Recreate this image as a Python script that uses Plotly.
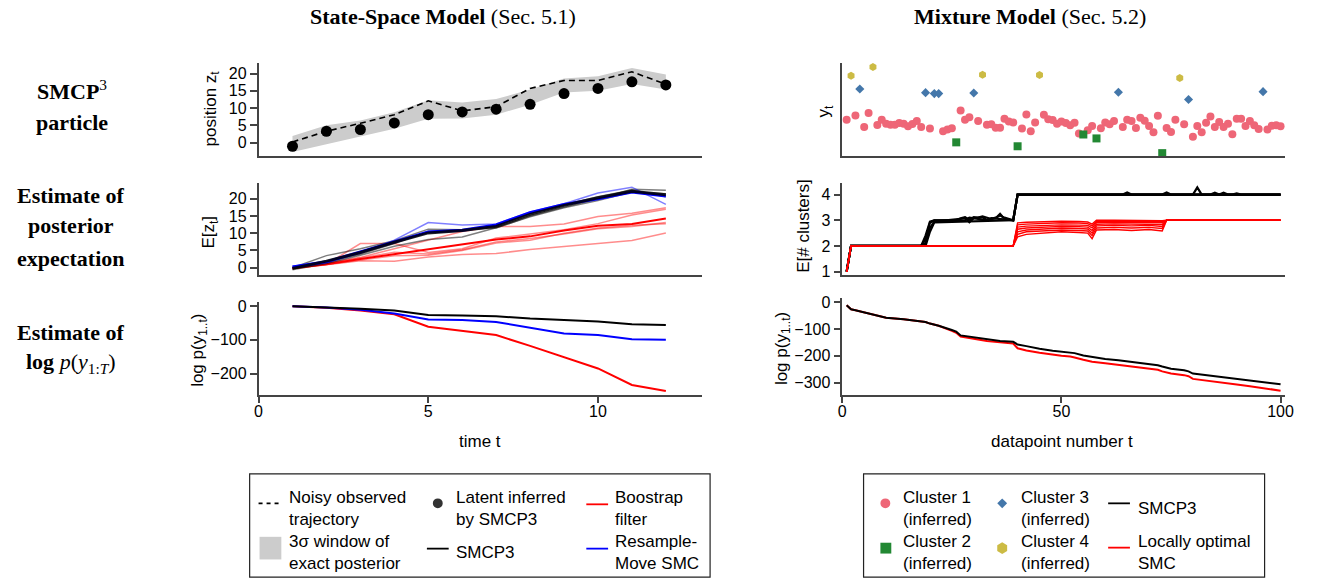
import plotly.graph_objects as go

W, H = 1326, 586
OFF = 8  # the page body has an 8px margin; shift drawing so it lands on the window's pixels

# ---------------- State-space model (Sec. 5.1) ----------------
time_t = [1, 2, 3, 4, 5, 6, 7, 8, 9, 10, 11, 12]
observed = [0.2, 3.3, 5.6, 8.1, 12.1, 9.2, 10.4, 15.7, 18.0, 18.0, 20.5, 16.9]
latent_smcp3 = [-1.05, 3.3, 3.8, 5.7, 8.1, 8.9, 9.7, 11.1, 14.2, 15.7, 17.6, 16.7]
band_upper = [1.9, 5.0, 6.4, 8.8, 12.3, 11.6, 12.6, 15.4, 18.6, 19.2, 21.6, 19.7]
band_lower = [-2.7, -0.5, 1.6, 4.0, 6.9, 7.0, 8.1, 11.0, 14.5, 15.0, 17.0, 15.4]

# posterior-expectation estimates E[z_t]
ez_smcp3_main = [-0.2, 1.9, 4.4, 7.4, 10.1, 10.8, 12.0, 15.5, 18.1, 20.3, 22.2, 21.2]
ez_smcp3_runs = [
    [0.0, 3.5, 5.5, 7.8, 11.2, 11.0, 11.5, 15.0, 17.6, 20.0, 22.8, 22.5],
    [-0.6, 1.2, 3.6, 6.2, 8.2, 8.9, 11.6, 14.8, 17.4, 19.5, 22.0, 21.5],
    [-0.3, 1.6, 4.0, 7.0, 10.6, 10.9, 12.2, 15.8, 18.3, 20.6, 22.6, 20.6],
]
ez_rm_main = [0.2, 1.7, 4.6, 7.6, 10.4, 10.9, 12.4, 16.0, 18.4, 20.0, 22.0, 20.8]
ez_rm_runs = [
    [0.4, 1.8, 4.2, 8.0, 13.1, 12.4, 12.7, 16.2, 18.6, 21.7, 23.4, 18.4],
]
ez_bf_main = [-0.2, 1.0, 2.5, 3.9, 5.3, 6.8, 8.2, 9.1, 10.8, 12.2, 12.7, 14.3]
ez_bf_runs = [
    [0.0, 1.3, 3.0, 5.5, 8.0, 10.5, 12.0, 12.0, 12.7, 14.9, 15.8, 17.4],
    [0.0, 1.0, 7.0, 7.0, 4.4, 5.5, 8.6, 9.7, 11.0, 12.8, 15.3, 17.0],
    [-0.3, 0.8, 2.0, 1.9, 3.1, 3.8, 4.1, 5.3, 6.2, 7.0, 7.9, 10.1],
    [0.1, 1.2, 2.8, 4.5, 4.0, 5.2, 7.5, 8.5, 9.8, 11.3, 12.0, 13.1],
    [-0.1, 0.9, 2.2, 3.5, 3.6, 5.0, 7.2, 8.0, 10.0, 11.5, 12.3, 12.8],
]

# log marginal likelihood estimates
logp_smcp3 = [0, -3, -8, -13, -26, -28, -30, -37, -42, -46, -54, -56]
logp_rm = [0, -4, -11, -22, -40, -41, -47, -64, -81, -86, -98, -100]
logp_bf = [0, -5, -13, -24, -61, -74, -86, -118, -151, -185, -234, -252]

# ---------------- Mixture model (Sec. 5.2) ----------------
c1_t = [1, 3, 5, 6, 8, 9, 10, 11, 12, 13, 14, 15, 16, 17, 18, 20, 23, 24, 25, 27,
        28, 29, 31, 33, 34, 35, 36, 37, 38, 39, 41, 42, 43, 44, 46, 47, 48, 49, 50, 51,
        52, 53, 54, 56, 57, 59, 60, 61, 62, 64, 65, 66, 67, 68, 69, 70, 71, 72, 74, 75,
        76, 78, 80, 81, 82, 83, 84, 85, 86, 87, 88, 89, 90, 91, 92, 93, 94, 95, 97, 98,
        99, 100]
c1_y = [11.0, 12.3, 8.8, 13.1, 9.4, 11.0, 9.8, 9.5, 9.5, 10.0, 9.8, 9.0, 9.7, 10.6, 8.8, 8.3, 7.5, 8.0, 8.4, 13.8,
        11.0, 11.8, 10.6, 9.5, 9.6, 8.6, 8.6, 11.3, 10.5, 10.2, 8.3, 12.6, 7.5, 10.2, 12.5, 11.2, 10.9, 9.8, 10.5, 10.0,
        9.3, 10.1, 6.8, 7.8, 9.1, 8.4, 10.2, 9.6, 10.6, 8.8, 11.0, 10.6, 8.5, 11.6, 10.7, 9.1, 7.2, 12.2, 8.5, 7.3,
        11.0, 9.6, 5.8, 9.1, 7.2, 10.1, 12.0, 8.8, 10.3, 8.8, 9.8, 6.6, 11.3, 11.3, 9.1, 10.6, 9.3, 8.2, 8.0, 9.2,
        9.3, 9.0]
c2_t = [26, 40, 55, 58, 73]
c2_y = [4.1, 2.9, 6.5, 5.3, 0.8]
c3_t = [4, 19, 21, 22, 30, 63, 79, 96]
c3_y = [20.4, 19.3, 19.0, 19.0, 19.2, 19.4, 17.2, 19.6]
c4_t = [2, 7, 32, 45, 77]
c4_y = [24.5, 27.1, 24.8, 24.7, 23.8]

# E[# clusters] runs (vertices)
k_smcp3_runs = [
    ([1, 2, 18, 19, 20, 21, 26, 27, 28, 29, 30, 31, 32, 33, 34, 35, 36, 37, 38, 39, 40, 64, 65, 66, 73, 74, 75,
      80, 81, 82, 84, 85, 86, 87, 88, 89, 90, 91, 100],
     [1, 2, 2, 2.4, 2.95, 3.0, 3.0, 3.08, 3.12, 3.02, 3.12, 3.1, 3.15, 3.1, 3.05, 3.08, 3.25, 3.05, 3.02, 3.0, 4, 4,
      4.08, 4, 4, 4.08, 4, 4, 4.28, 4, 4, 4.07, 4, 4.07, 4, 4, 4.05, 4, 4]),
    ([1, 2, 18, 19, 20, 21, 27, 28, 29, 30, 32, 33, 35, 36, 37, 39, 40, 100],
     [1, 2, 2, 2.1, 2.7, 2.95, 3.05, 3.1, 2.92, 3.08, 3.12, 3.0, 3.1, 3.18, 3.1, 3.0, 4, 4]),
    ([1, 2, 18, 19, 20, 21, 28, 29, 31, 33, 34, 39, 40, 100],
     [1, 2, 2, 2.25, 2.9, 3.0, 3.0, 3.1, 3.05, 3.0, 3.08, 3.0, 4, 4]),
    ([1, 2, 18, 19, 20, 21, 39, 40, 100],
     [1, 2, 2, 2.0, 2.55, 2.92, 3.0, 4, 4]),
]
k_lo_t = [1, 2, 39, 40, 42, 46, 50, 54, 56, 57, 58, 62, 66, 70, 73, 74, 100]
k_lo_runs = [
    [1, 2, 2, 2.35, 2.45, 2.5, 2.55, 2.52, 2.5, 2.28, 2.62, 2.64, 2.6, 2.64, 2.58, 3, 3],
    [1, 2, 2, 2.45, 2.55, 2.58, 2.62, 2.6, 2.58, 2.4, 2.7, 2.72, 2.7, 2.72, 2.68, 3, 3],
    [1, 2, 2, 2.55, 2.62, 2.66, 2.7, 2.68, 2.66, 2.5, 2.78, 2.8, 2.78, 2.8, 2.76, 3, 3],
    [1, 2, 2, 2.65, 2.7, 2.74, 2.76, 2.75, 2.73, 2.6, 2.84, 2.86, 2.85, 2.86, 2.83, 3, 3],
    [1, 2, 2, 2.73, 2.77, 2.8, 2.82, 2.81, 2.8, 2.7, 2.9, 2.91, 2.9, 2.91, 2.9, 3, 3],
    [1, 2, 2, 2.82, 2.85, 2.88, 2.9, 2.89, 2.87, 2.78, 2.95, 2.96, 2.95, 2.96, 2.94, 3, 3],
    [1, 2, 2, 2.9, 2.92, 2.95, 2.96, 2.95, 2.93, 2.85, 3.0, 3.0, 2.99, 3.0, 2.98, 3, 3],
]

# log p(y_1..t) estimates
mix_t = [1, 2, 3, 5, 8, 10, 14, 18, 19, 20, 22, 25, 26, 27, 30, 33, 36, 39, 40, 42, 45, 48, 50, 52, 53, 55, 57,
         60, 63, 65, 68, 70, 72, 73, 75, 78, 79, 80, 83, 85, 88, 90, 93, 95, 97, 98, 100]
mix_logp_smcp3 = [-12, -27, -30, -38, -50, -58, -64, -71, -74, -80, -88, -104, -110, -124, -131, -139, -145, -148,
                  -158, -164, -174, -181, -184, -187, -190, -199, -205, -212, -217, -221, -226, -229, -235, -240,
                  -248, -254, -258, -266, -272, -276, -281, -285, -291, -295, -301, -303, -306]
mix_logp_lo = [-12, -27, -30, -38, -50, -58, -64, -71, -74, -80, -88, -107, -114, -128, -137, -145, -150, -154,
               -172, -180, -189, -197, -200, -203, -206, -215, -222, -228, -234, -238, -243, -246, -252, -258,
               -266, -272, -276, -286, -293, -297, -302, -307, -313, -318, -324, -327, -330]

# tick labels
left_x_ticks = [0, 5, 10]
right_x_ticks = [0, 50, 100]

# ---------------- styling ----------------
SANS = "Liberation Sans, Arial, Helvetica, sans-serif"
SERIF = "Liberation Serif, Times New Roman, serif"
AX = "#444444"
C1, C2, C3, C4 = "#EE6677", "#228833", "#4477AA", "#CCBB44"


def X(p):
    return (p - OFF) / W


def Y(p):
    return 1 - (p - OFF) / H


fig = go.Figure()

# --- top-left ---
fig.add_trace(go.Scatter(x=time_t, y=band_lower, mode="lines", line=dict(width=0), hoverinfo="skip",
                         xaxis="x", yaxis="y"))
fig.add_trace(go.Scatter(x=time_t, y=band_upper, mode="lines", line=dict(width=0), fill="tonexty",
                         fillcolor="#cccccc", xaxis="x", yaxis="y"))
fig.add_trace(go.Scatter(x=time_t, y=observed, mode="lines", line=dict(color="black", width=1.6, dash="6px,4px"),
                         xaxis="x", yaxis="y"))
fig.add_trace(go.Scatter(x=time_t, y=latent_smcp3, mode="markers", marker=dict(color="black", size=11),
                         cliponaxis=False, xaxis="x", yaxis="y"))

# --- middle-left ---
for run in ez_bf_runs:
    fig.add_trace(go.Scatter(x=time_t, y=run, mode="lines", line=dict(color="rgba(255,0,0,0.45)", width=1.5),
                             xaxis="x2", yaxis="y2"))
fig.add_trace(go.Scatter(x=time_t, y=ez_bf_main, mode="lines", line=dict(color="red", width=2),
                         xaxis="x2", yaxis="y2"))
for run in ez_smcp3_runs:
    fig.add_trace(go.Scatter(x=time_t, y=run, mode="lines", line=dict(color="rgba(0,0,0,0.5)", width=1.5),
                             xaxis="x2", yaxis="y2"))
for run in ez_rm_runs:
    fig.add_trace(go.Scatter(x=time_t, y=run, mode="lines", line=dict(color="rgba(0,0,255,0.5)", width=1.5),
                             xaxis="x2", yaxis="y2"))
fig.add_trace(go.Scatter(x=time_t, y=ez_rm_main, mode="lines", line=dict(color="blue", width=3),
                         xaxis="x2", yaxis="y2"))
fig.add_trace(go.Scatter(x=time_t, y=ez_smcp3_main, mode="lines", line=dict(color="rgba(0,0,0,0.85)", width=3),
                         xaxis="x2", yaxis="y2"))

# --- bottom-left ---
fig.add_trace(go.Scatter(x=time_t, y=logp_bf, mode="lines", line=dict(color="red", width=2), xaxis="x3", yaxis="y3"))
fig.add_trace(go.Scatter(x=time_t, y=logp_rm, mode="lines", line=dict(color="blue", width=2), xaxis="x3", yaxis="y3"))
fig.add_trace(go.Scatter(x=time_t, y=logp_smcp3, mode="lines", line=dict(color="black", width=2),
                         xaxis="x3", yaxis="y3"))

# --- top-right ---
fig.add_trace(go.Scatter(x=c1_t, y=c1_y, mode="markers", marker=dict(color=C1, size=8, symbol="circle"),
                         cliponaxis=False, xaxis="x4", yaxis="y4"))
fig.add_trace(go.Scatter(x=c2_t, y=c2_y, mode="markers", marker=dict(color=C2, size=8, symbol="square"),
                         cliponaxis=False, xaxis="x4", yaxis="y4"))
fig.add_trace(go.Scatter(x=c3_t, y=c3_y, mode="markers", marker=dict(color=C3, size=7, symbol="diamond"),
                         cliponaxis=False, xaxis="x4", yaxis="y4"))
fig.add_trace(go.Scatter(x=c4_t, y=c4_y, mode="markers", marker=dict(color=C4, size=8, symbol="hexagon"),
                         cliponaxis=False, xaxis="x4", yaxis="y4"))

# --- middle-right ---
for tt, vv in k_smcp3_runs:
    fig.add_trace(go.Scatter(x=tt, y=vv, mode="lines", line=dict(color="black", width=2.2),
                             xaxis="x5", yaxis="y5"))
for vv in k_lo_runs:
    fig.add_trace(go.Scatter(x=k_lo_t, y=vv, mode="lines", line=dict(color="red", width=1.4),
                             xaxis="x5", yaxis="y5"))

# --- bottom-right ---
fig.add_trace(go.Scatter(x=mix_t, y=mix_logp_lo, mode="lines", line=dict(color="red", width=2),
                         xaxis="x6", yaxis="y6"))
fig.add_trace(go.Scatter(x=mix_t, y=mix_logp_smcp3, mode="lines", line=dict(color="black", width=2),
                         xaxis="x6", yaxis="y6"))

# ---------------- axes ----------------
LX = [X(257), X(705)]
RX = [X(846.5), X(1294)]
ROW1 = [Y(154), Y(60)]
ROW2 = [Y(275), Y(181.7)]
ROW3L = [Y(396.7), Y(302.3)]
ROW3R = [Y(396.7), Y(298)]

base = dict(showline=True, linecolor=AX, linewidth=1.5, showgrid=False, zeroline=False,
            ticks="outside", ticklen=7, tickwidth=1.5, tickcolor=AX,
            tickfont=dict(size=16, family=SANS, color="black"), fixedrange=True)
noX = dict(base, ticks="", showticklabels=False)
xt = dict(base, ticklabelstandoff=-6)

fig.update_layout(
    xaxis=dict(noX, domain=LX, anchor="y", range=[0, 13.07]),
    yaxis=dict(base, domain=ROW1, anchor="x", range=[-3.8, 23], tickvals=[0, 5, 10, 15, 20]),
    xaxis2=dict(noX, domain=LX, anchor="y2", range=[0, 13.07]),
    yaxis2=dict(base, domain=ROW2, anchor="x2", range=[-2.1, 24.6], tickvals=[0, 5, 10, 15, 20]),
    xaxis3=dict(xt, domain=LX, anchor="y3", range=[0, 13.07], tickvals=left_x_ticks),
    yaxis3=dict(base, domain=ROW3L, anchor="x3", range=[-263, 12.9], tickvals=[0, -100, -200]),
    xaxis4=dict(noX, domain=RX, anchor="y4", range=[0, 101.1]),
    yaxis4=dict(noX, domain=ROW1, anchor="x4", range=[0, 28.3]),
    xaxis5=dict(noX, domain=RX, anchor="y5", range=[0, 101.1]),
    yaxis5=dict(base, domain=ROW2, anchor="x5", range=[0.87, 4.45], tickvals=[1, 2, 3, 4]),
    xaxis6=dict(xt, domain=RX, anchor="y6", range=[0, 101.1], tickvals=right_x_ticks),
    yaxis6=dict(base, domain=ROW3R, anchor="x6", range=[-345, 17], tickvals=[0, -100, -200, -300]),
)

# ---------------- annotations ----------------
ann = []


def note(text, x, y, size=17, family=SANS, xanchor="center", yanchor="middle", angle=0, align="center"):
    ann.append(dict(text=text, x=X(x), y=Y(y), xref="paper", yref="paper", showarrow=False,
                    xanchor=xanchor, yanchor=yanchor, textangle=angle, align=align,
                    font=dict(size=size, family=family, color="black")))


# column titles
note("<b>State-Space Model</b> (Sec. 5.1)", 443, 13, size=22, family=SERIF)
note("<b>Mixture Model</b> (Sec. 5.2)", 1036, 13, size=22, family=SERIF)

# row labels
note("<b>SMCP</b><sup>3</sup>", 69, 87, size=22, family=SERIF)
note("<b>particle</b>", 69, 120, size=22, family=SERIF)
note("<b>Estimate of</b>", 68, 194, size=22, family=SERIF)
note("<b>posterior</b>", 68, 225, size=22, family=SERIF)
note("<b>expectation</b>", 68, 258, size=22, family=SERIF)
note("<b>Estimate of</b>", 68, 334, size=22, family=SERIF)
note("<b>log</b> <i>p</i>(<i>y</i><sub>1:<i>T</i></sub>)", 68, 364, size=22, family=SERIF)

# axis titles
note("position z<sub>t</sub>", 210, 106, angle=-90)
note("E[z<sub>t</sub>]", 208, 232, angle=-90)
note("log p(y<sub>1..t</sub>)", 197, 352, angle=-90)
note("time t", 481, 444)
note("y<sub>t</sub>", 830, 108, angle=-90)
note("E[# clusters]", 808, 225, angle=-90)
note("log p(y<sub>1..t</sub>)", 786, 350, angle=-90)
note("datapoint number t", 1068, 444)

# legend texts
LT = 17
note("Noisy observed<br>trajectory", 286, 512, size=LT, xanchor="left", align="left")
note("3σ window of<br>exact posterior", 286, 557, size=LT, xanchor="left", align="left")
note("Latent inferred<br>by SMCP3", 454, 512, size=LT, xanchor="left", align="left")
note("SMCP3", 454, 557, size=LT, xanchor="left", align="left")
note("Boostrap<br>filter", 615, 512, size=LT, xanchor="left", align="left")
note("Resample-<br>Move SMC", 615, 557, size=LT, xanchor="left", align="left")

note("Cluster 1<br>(inferred)", 906, 512, size=LT, xanchor="left", align="left")
note("Cluster 2<br>(inferred)", 906, 557, size=LT, xanchor="left", align="left")
note("Cluster 3<br>(inferred)", 1025, 512, size=LT, xanchor="left", align="left")
note("Cluster 4<br>(inferred)", 1025, 557, size=LT, xanchor="left", align="left")
note("SMCP3", 1143, 512, size=LT, xanchor="left", align="left")
note("Locally optimal<br>SMC", 1143, 557, size=LT, xanchor="left", align="left")

# ---------------- legend boxes & keys (shapes) ----------------
shapes = []


def rect(x0, y0, x1, y1, fill=None, line_color=None, lw=1):
    shapes.append(dict(type="rect", xref="paper", yref="paper", x0=X(x0), x1=X(x1), y0=Y(y1), y1=Y(y0),
                       fillcolor=fill if fill else "rgba(0,0,0,0)",
                       line=dict(color=line_color if line_color else "rgba(0,0,0,0)", width=lw)))


def hline(x0, x1, y, color, lw=1.6, dash="solid"):
    shapes.append(dict(type="line", xref="paper", yref="paper", x0=X(x0), x1=X(x1), y0=Y(y), y1=Y(y),
                       line=dict(color=color, width=lw, dash=dash)))


def circle(cx, cy, r, color):
    shapes.append(dict(type="circle", xref="paper", yref="paper", x0=X(cx - r), x1=X(cx + r),
                       y0=Y(cy + r), y1=Y(cy - r), fillcolor=color, line=dict(width=0)))


def poly(points, color):
    d = "M " + " L ".join(f"{X(px):.5f},{Y(py):.5f}" for px, py in points) + " Z"
    shapes.append(dict(type="path", xref="paper", yref="paper", path=d, fillcolor=color, line=dict(width=0)))


rect(248, 477, 713, 582, line_color="#222222", lw=1.2)
rect(868, 477, 1273, 582, line_color="#222222", lw=1.2)

hline(257, 281, 507, "black", lw=1.6, dash="4px,4px")
rect(258, 541, 280, 564, fill="#cccccc")
circle(438, 507, 5, "#333333")
hline(427, 449, 553, "black", lw=1.8)
hline(588, 610, 508, "red", lw=1.8)
hline(588, 610, 553, "blue", lw=1.8)

circle(890, 507, 5, C1)
rect(885, 547, 896, 558, fill=C2)
poly([(1008, 502), (1013, 507), (1008, 512), (1003, 507)], C3)
poly([(1008, 546.5), (1013, 549.5), (1013, 555.5), (1008, 558.5), (1003, 555.5), (1003, 549.5)], C4)
hline(1115, 1137, 507, "black", lw=1.8)
hline(1115, 1137, 552, "red", lw=1.8)

fig.update_layout(
    width=W, height=H, margin=dict(l=0, r=0, t=0, b=0),
    paper_bgcolor="white", plot_bgcolor="white", showlegend=False,
    font=dict(family=SANS, size=16, color="black"),
    annotations=ann, shapes=shapes,
)

fig.write_html("out.html")
